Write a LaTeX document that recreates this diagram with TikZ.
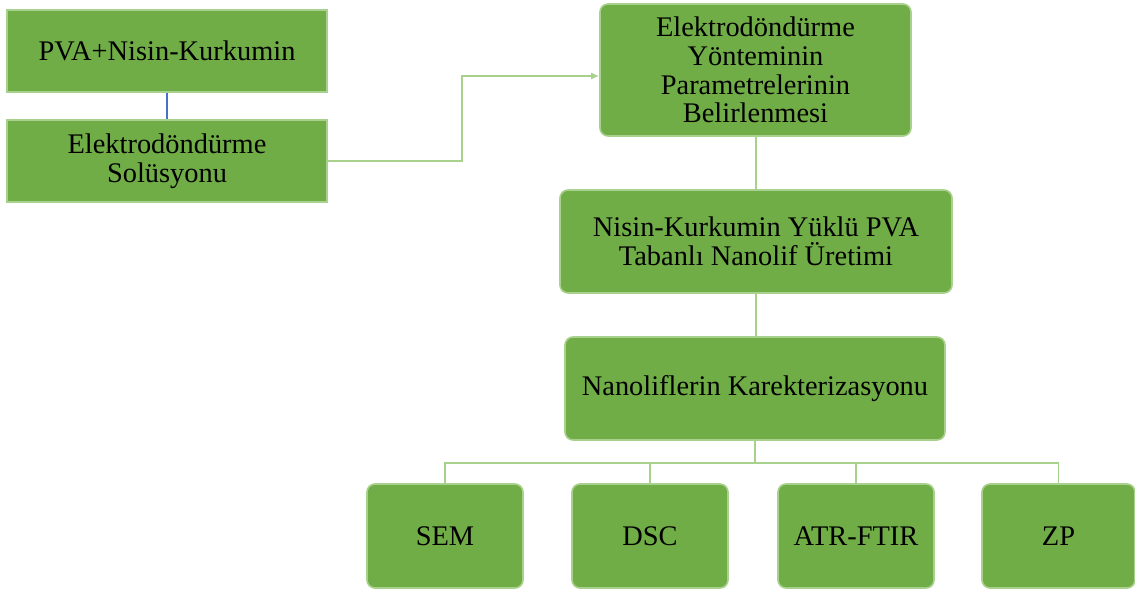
\documentclass[tikz,border=0pt]{standalone}
\usepackage{fontspec}
\setmainfont{Liberation Serif}
\usepackage{tikz}
\usetikzlibrary{arrows.meta}
\usepackage{xcolor}

\definecolor{boxfill}{HTML}{70AD47}
\definecolor{boxedge}{HTML}{A9D18E}
\definecolor{linkgreen}{HTML}{A9D18E}
\definecolor{linkblue}{HTML}{4472C4}

\tikzset{
  greenbox/.style={draw=boxedge, fill=boxfill, line width=0.8pt, text=black, align=center, inner sep=2pt, font=\fontsize{14.2}{14.3}\selectfont},
  roundbox/.style={greenbox, rounded corners=4pt},
  link/.style={draw=linkgreen, line width=0.7pt},
}

\begin{document}
\begin{tikzpicture}[x=0.5pt, y=-0.5pt]

\useasboundingbox (0,0) rectangle (1135,590);

% left column
\node[greenbox, minimum width=160pt, minimum height=41pt] (pva) at (167,51) {PVA+Nisin-Kurkumin};
\node[greenbox, minimum width=160pt, minimum height=41pt] (solusyon) at (167,161) {Elektrodöndürme\\Solüsyonu};

% main chain
\node[roundbox, minimum width=155.5pt, minimum height=66pt] (param) at (755.5,70) {Elektrodöndürme\\Yönteminin\\Parametrelerinin\\Belirlenmesi};
\node[roundbox, minimum width=196pt, minimum height=51.5pt] (uretim) at (756,241.5) {Nisin-Kurkumin Yüklü PVA\\Tabanlı Nanolif Üretimi};
\node[roundbox, minimum width=190pt, minimum height=51.5pt] (karakter) at (755,388.5) {Nanoliflerin Karekterizasyonu};

% analyses
\node[roundbox, minimum width=78pt, minimum height=52pt] (sem) at (445,536) {SEM};
\node[roundbox, minimum width=78pt, minimum height=52pt] (dsc) at (650,536) {DSC};
\node[roundbox, minimum width=78pt, minimum height=52pt] (atr) at (856,536) {ATR-FTIR};
\node[roundbox, minimum width=76.5pt, minimum height=52pt] (zp) at (1058.5,536) {ZP};

\draw[linkblue, line width=0.6pt] (pva.south) -- (solusyon.north);

\draw[link, -{Latex[length=4pt, width=3.5pt]}] (solusyon.east) -- ++(134,0) |- ([yshift=-3pt]param.west);

\draw[link] (uretim.north |- param.south) -- (uretim.north);
\draw[link] (uretim.south) -- (uretim.south |- karakter.north);

\foreach \n in {sem,dsc,atr,zp}
  \draw[link] (karakter.south) -- ++(0,22) -| (\n.north);

\end{tikzpicture}
\end{document}
